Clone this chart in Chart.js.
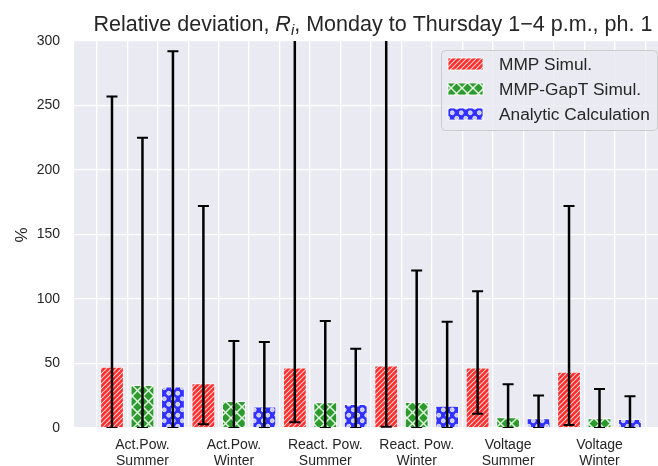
<!DOCTYPE html>
<html>
<head>
<meta charset="utf-8">
<script src="https://cdn.jsdelivr.net/npm/chart.js@4.4.0/dist/chart.umd.min.js"></script>
<style>
    html, body { margin: 0; padding: 0; background: #fff; }
    canvas { display: block; }
</style>
</head>
<body>
<canvas id="chart" width="658" height="466"></canvas>
<script>
// Categorias (cada uma com duas linhas)
const groups = [
    ['Act.Pow.', 'Summer'],
    ['Act.Pow.', 'Winter'],
    ['React. Pow.', 'Summer'],
    ['React. Pow.', 'Winter'],
    ['Voltage', 'Summer'],
    ['Voltage', 'Winter']
];

const seriesNames = ['MMP Simul.', 'MMP-GapT Simul.', 'Analytic Calculation'];

// Valores das barras (%)
const mmpValues      = [47.5, 34.7, 46.9, 48.4, 46.9, 43.7];
const gaptValues     = [33.4, 21.0, 20.0, 20.2, 8.3, 7.5];
const analyticValues = [32.1, 16.6, 18.6, 17.3, 7.5, 7.0];

// Limites das barras de erro (mínimo / máximo)
const mmpLow       = [0, 3, 4.5, 1, 11, 2.3];
const mmpHigh      = [257, 172, 340, 320, 106, 172];
const gaptLow      = [0, 0, 0, 0, 0, 0];
const gaptHigh     = [225, 67.5, 83, 122, 34, 30.3];
const analyticLow  = [0, 0, 0, 0, 0, 0];
const analyticHigh = [292, 66.6, 61.4, 82.4, 25.1, 24.6];

const yTicks = [0, 50, 100, 150, 200, 250, 300];

const TEXT = '#262626';
const FONT = "'Liberation Sans', Arial, sans-serif";

/**
 * Cria os padrões de hachura
 */
function makePattern(kind) {
    const c = document.createElement('canvas');
    const g = c.getContext('2d');
    if (kind === 'stripes') {
        c.width = 5; c.height = 5;
        g.fillStyle = '#ff2a2a';
        g.fillRect(0, 0, 5, 5);
        g.strokeStyle = 'rgba(255,225,225,0.95)';
        g.lineWidth = 1.05;
        g.beginPath();
        g.moveTo(-1, 6); g.lineTo(6, -1);
        g.moveTo(-1, 1); g.lineTo(1, -1);
        g.moveTo(4, 6); g.lineTo(6, 4);
        g.stroke();
    } else if (kind === 'cross') {
        c.width = 11; c.height = 11;
        g.fillStyle = '#2c9a2c';
        g.fillRect(0, 0, 11, 11);
        g.strokeStyle = 'rgba(235,255,235,0.95)';
        g.lineWidth = 1.5;
        g.beginPath();
        g.moveTo(-1, -1); g.lineTo(12, 12);
        g.moveTo(-1, 12); g.lineTo(12, -1);
        g.stroke();
    } else {
        c.width = 9; c.height = 11;
        g.fillStyle = '#3030ff';
        g.fillRect(0, 0, 9, 11);
        g.fillStyle = 'rgba(200,200,255,1)';
        g.strokeStyle = 'rgba(255,255,255,0.9)';
        g.lineWidth = 0.8;
        [[2.25, 2.75], [6.75, 8.25]].forEach(([x, y]) => {
            g.beginPath(); g.arc(x, y, 2, 0, Math.PI * 2); g.fill(); g.stroke();
        });
    }
    return c.getContext('2d').createPattern(c, 'repeat');
}

const patterns = [makePattern('stripes'), makePattern('cross'), makePattern('dots')];

function toPoints(values, offset) {
    return values.map((v, i) => ({ x: i * 3 + offset, y: v }));
}

const datasets = [
    { label: seriesNames[0], data: toPoints(mmpValues, 0), errLow: mmpLow, errHigh: mmpHigh },
    { label: seriesNames[1], data: toPoints(gaptValues, 1), errLow: gaptLow, errHigh: gaptHigh },
    { label: seriesNames[2], data: toPoints(analyticValues, 2), errLow: analyticLow, errHigh: analyticHigh }
].map((ds, i) => Object.assign(ds, {
    backgroundColor: patterns[i],
    borderColor: 'rgba(255,255,255,0.8)',
    borderWidth: 1,
    barPercentage: 0.78,
    categoryPercentage: 1,
    grouped: false
}));

// Fundo cinza da área do gráfico
const plotBackground = {
    id: 'plotBackground',
    beforeDraw(chart) {
        const { ctx, chartArea: a } = chart;
        ctx.save();
        ctx.fillStyle = '#eaeaf2';
        ctx.fillRect(a.left, a.top, a.right - a.left, a.bottom - a.top);
        ctx.restore();
    }
};

// Barras de erro
const errorBars = {
    id: 'errorBars',
    afterDatasetsDraw(chart) {
        const { ctx, chartArea: a, scales: { y } } = chart;
        ctx.save();
        ctx.beginPath();
        ctx.rect(a.left, a.top, a.right - a.left, a.bottom - a.top);
        ctx.clip();
        ctx.strokeStyle = '#000';
        chart.data.datasets.forEach((ds, i) => {
            chart.getDatasetMeta(i).data.forEach((bar, j) => {
                const lo = y.getPixelForValue(ds.errLow[j]);
                const hi = y.getPixelForValue(ds.errHigh[j]);
                ctx.lineWidth = 2.5;
                ctx.beginPath();
                ctx.moveTo(bar.x, lo);
                ctx.lineTo(bar.x, hi);
                ctx.stroke();
                ctx.lineWidth = 2;
                ctx.beginPath();
                ctx.moveTo(bar.x - 5.5, lo); ctx.lineTo(bar.x + 5.5, lo);
                ctx.moveTo(bar.x - 5.5, hi); ctx.lineTo(bar.x + 5.5, hi);
                ctx.stroke();
            });
        });
        ctx.restore();
    }
};

// Título, rótulo do eixo y e legenda
const decorations = {
    id: 'decorations',
    afterDraw(chart) {
        const { ctx } = chart;
        ctx.save();

        // título com R_i em itálico
        let size = 19;
        const parts = [
            { t: 'Relative deviation, ', f: '' , s: 1, dy: 0 },
            { t: 'R', f: 'italic ', s: 1, dy: 0 },
            { t: 'i', f: 'italic ', s: 0.7, dy: 4 },
            { t: ', Monday to Thursday 1\u22124 p.m., ph. 1', f: '', s: 1, dy: 0 }
        ];
        const measure = (sz) => parts.reduce((w, p) => {
            ctx.font = `${p.f}${sz * p.s}px ${FONT}`;
            return w + ctx.measureText(p.t).width;
        }, 0);
        size = size * 559 / measure(size);
        let x = 373 - measure(size) / 2;
        ctx.fillStyle = TEXT;
        ctx.textBaseline = 'alphabetic';
        ctx.textAlign = 'left';
        parts.forEach(p => {
            ctx.font = `${p.f}${size * p.s}px ${FONT}`;
            ctx.fillText(p.t, x, 31 + p.dy);
            x += ctx.measureText(p.t).width;
        });

        // rótulo do eixo y
        ctx.save();
        ctx.translate(22, 235);
        ctx.rotate(-Math.PI / 2);
        ctx.font = `17px ${FONT}`;
        ctx.textAlign = 'center';
        ctx.textBaseline = 'middle';
        ctx.fillText('%', 0, 0);
        ctx.restore();

        // legenda
        const lx = 441.5, ly = 50.5, lw = 216, lh = 80;
        ctx.beginPath();
        ctx.roundRect(lx, ly, lw, lh, 4);
        ctx.fillStyle = 'rgba(234,234,242,0.85)';
        ctx.fill();
        ctx.strokeStyle = '#cccccc';
        ctx.lineWidth = 1;
        ctx.stroke();
        ctx.font = `17.3px ${FONT}`;
        ctx.textBaseline = 'middle';
        chart.data.datasets.forEach((ds, i) => {
            const cy = 64 + i * 25;
            ctx.fillStyle = ds.backgroundColor;
            ctx.fillRect(448, cy - 6, 35, 12);
            ctx.strokeStyle = 'rgba(255,255,255,0.8)';
            ctx.strokeRect(448, cy - 6, 35, 12);
            ctx.fillStyle = TEXT;
            ctx.fillText(ds.label, 499, cy + 1);
        });

        ctx.restore();
    }
};

const ctx = document.getElementById('chart').getContext('2d');
const chart = new Chart(ctx, {
    type: 'bar',
    data: { datasets },
    options: {
        responsive: false,
        animation: false,
        devicePixelRatio: 1,
        layout: { padding: { top: 41, left: 0, right: 0, bottom: 0 } },
        plugins: {
            legend: { display: false },
            title: { display: false },
            tooltip: { enabled: false }
        },
        scales: {
            x: {
                type: 'linear',
                min: -1.247,
                max: 17.92,
                offset: false,
                afterBuildTicks(scale) {
                    scale.ticks = Array.from({ length: groups.length * 3 }, (_, i) => ({ value: i }));
                },
                afterFit(scale) { scale.height = 38; },
                ticks: {
                    autoSkip: false,
                    maxRotation: 0,
                    minRotation: 0,
                    padding: 10,
                    color: TEXT,
                    font: { family: FONT, size: 14, lineHeight: 1.08 },
                    callback: (value) => (value % 3 === 1 ? groups[(value - 1) / 3] : '')
                },
                grid: { color: '#ffffff', lineWidth: 1.3, drawTicks: false },
                border: { display: false }
            },
            y: {
                min: 0,
                max: 300,
                afterBuildTicks(scale) {
                    scale.ticks = yTicks.map(v => ({ value: v }));
                },
                afterFit(scale) { scale.width = 74; },
                ticks: {
                    padding: 14,
                    color: TEXT,
                    font: { family: FONT, size: 14 }
                },
                grid: { color: '#ffffff', lineWidth: 1.3, drawTicks: false },
                border: { display: false }
            }
        }
    },
    plugins: [plotBackground, errorBars, decorations]
});
</script>
</body>
</html>
